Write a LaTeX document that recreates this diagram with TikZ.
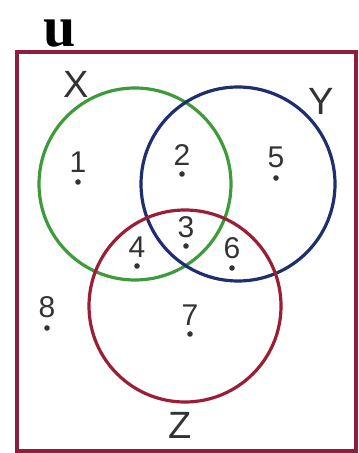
\documentclass[tikz,border=0pt]{standalone}
\usepackage{fontspec}
\setmainfont{Liberation Sans}
\newfontfamily\serifb{Liberation Serif}
\definecolor{frame}{HTML}{8E1D3E}
\definecolor{cx}{HTML}{3E9A3A}
\definecolor{cy}{HTML}{1F2E6E}
\definecolor{cz}{HTML}{9A1E36}
\definecolor{txt}{HTML}{333333}
\begin{document}
\begin{tikzpicture}[x=0.5pt,y=-0.5pt,
  setline/.style={line width=1.6pt},
  num/.style={text=txt,font=\fontsize{15}{15}\selectfont,inner sep=0pt},
  lab/.style={text=txt,font=\fontsize{19}{19}\selectfont,inner sep=0pt},
  dotm/.style={circle,fill=txt,inner sep=0pt,minimum size=2.8pt}]
\useasboundingbox (0,0) rectangle (358,453);
\fill[white] (0,0) rectangle (358,453);
\draw[frame,setline] (17,52) rectangle (356,451);
\node[font=\serifb\bfseries\fontsize{29}{29}\selectfont,inner sep=0pt] (u) at (60,34) {u};
\draw[cx,setline] (135,184) circle[radius=48pt];
\draw[cy,setline] (238,184) circle[radius=48.5pt];
\draw[cz,setline] (185,306) circle[radius=48pt];
\node[lab] (X) at (76,84) {X};
\node[lab] (Y) at (321,101) {Y};
\node[lab] (Z) at (180,425) {Z};
\node[num] (n1) at (78,162) {1};
\node[dotm] (d1) at (78,182) {};
\node[num] (n2) at (182,155) {2};
\node[dotm] (d2) at (182,174) {};
\node[num] (n5) at (276,157) {5};
\node[dotm] (d5) at (276,178) {};
\node[num] (n3) at (186,227) {3};
\node[dotm] (d3) at (186,246) {};
\node[num] (n4) at (137,247) {4};
\node[dotm] (d4) at (137,266) {};
\node[num] (n6) at (232,248) {6};
\node[dotm] (d6) at (232,268) {};
\node[num] (n7) at (190,315) {7};
\node[dotm] (d7) at (190,334) {};
\node[num] (n8) at (47,307) {8};
\node[dotm] (d8) at (47,328) {};
\end{tikzpicture}
\end{document}
